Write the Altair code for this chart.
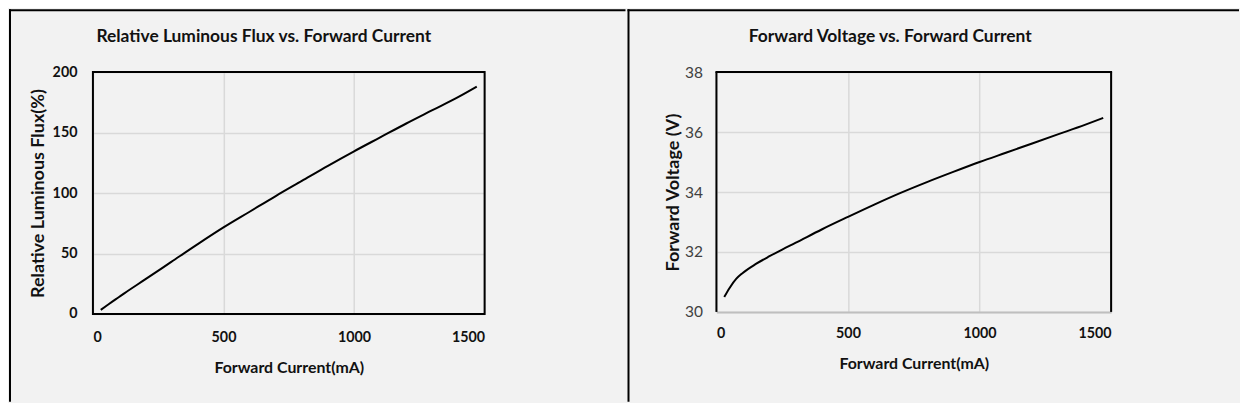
import altair as alt
import pandas as pd

# ---- data ----
flux_current = [30, 60, 100, 120, 200, 300, 400, 500, 600, 700, 800, 900, 1000, 1100, 1200, 1300, 1400, 1470]
flux_values = [3.3, 8, 14, 17, 28.5, 43, 57.5, 71.5, 84.5, 97.5, 110, 122.5, 134.5, 146, 157.5, 168.5, 179.5, 188]

volt_current = [30, 50, 75, 100, 150, 200, 250, 300, 400, 500, 600, 700, 800, 900, 1000, 1100, 1200, 1300, 1400, 1470]
volt_values = [30.5, 30.8, 31.1, 31.3, 31.6, 31.85, 32.08, 32.3, 32.75, 33.17, 33.58, 33.97, 34.33, 34.67, 35.0, 35.31, 35.62, 35.93, 36.24, 36.47]

x_ticks = [0, 500, 1000, 1500]
flux_ticks = [0, 50, 100, 150, 200]
volt_ticks = [30, 32, 34, 36, 38]

title_left = "Relative Luminous Flux vs. Forward Current"
title_right = "Forward Voltage vs. Forward Current"
x_title = "Forward Current(mA)"
y_title_left = "Relative Luminous Flux(%)"
y_title_right = "Forward Voltage (V)"

FONT = "Lato"
BG = "#f2f2f2"
GRID = "#d9d9d9"
TXT = "#111111"

df_flux = pd.DataFrame({"current": flux_current, "flux": flux_values})
df_volt = pd.DataFrame({"current": volt_current, "volt": volt_values})
one = alt.Data(values=[{"k": 1}])

LW, LH = 392, 242
RW, RH = 395, 240


def rule(x, y, x2=None, y2=None, color="black", width=2):
    enc = dict(x=alt.value(x), y=alt.value(y))
    if x2 is not None:
        enc["x2"] = alt.value(x2)
    if y2 is not None:
        enc["y2"] = alt.value(y2)
    return alt.Chart(one).mark_rule(color=color, strokeWidth=width, strokeCap="butt").encode(**enc)


# ---------- left panel ----------
xl = alt.X(
    "current:Q",
    scale=alt.Scale(domain=[0, 1500], nice=False),
    axis=alt.Axis(
        values=x_ticks, format="d", title=x_title, grid=True, gridColor=GRID, gridWidth=1.5,
        domain=False, ticks=False, tickSize=0, labelPadding=24, labelBaseline="middle",
        labelFont=FONT, labelFontWeight="bold", labelFontSize=14.3, labelColor=TXT,
        titleFont=FONT, titleFontWeight="bold", titleFontSize=15.9, titleColor=TXT,
        titleY=54, titleBaseline="middle",
    ),
)
yl = alt.Y(
    "flux:Q",
    scale=alt.Scale(domain=[0, 200], nice=False),
    axis=alt.Axis(
        values=flux_ticks, format="d", title=y_title_left, grid=True, gridColor=GRID, gridWidth=1.5,
        domain=False, ticks=False, tickSize=0, labelPadding=16,
        labelFont=FONT, labelFontWeight="bold", labelFontSize=14.3, labelColor=TXT,
        titleFont=FONT, titleFontWeight="bold", titleFontSize=18, titleColor=TXT,
        titleX=-54, titleBaseline="middle",
    ),
)
left_line = alt.Chart(df_flux).mark_line(color="black", strokeWidth=2, interpolate="monotone").encode(x=xl, y=yl)
left_frame = alt.Chart(one).mark_rect(filled=False, stroke="black", strokeWidth=2).encode(
    x=alt.value(0), x2=alt.value(LW), y=alt.value(0), y2=alt.value(LH)
)
left = alt.layer(
    left_line,
    left_frame,
    rule(-84, -62, x2=533),        # top border
    rule(-83, -63, y2=330),        # left border
).properties(
    width=LW, height=LH,
    title=alt.TitleParams(title_left, font=FONT, fontSize=17.4, fontWeight="bold", color=TXT,
                          anchor="middle", frame="group", baseline="middle", dx=-25, offset=-46),
    view=alt.ViewBackground(stroke=None),
)

# ---------- right panel ----------
xr = alt.X(
    "current:Q",
    scale=alt.Scale(domain=[0, 1500], nice=False),
    axis=alt.Axis(
        values=x_ticks, format="d", title=x_title, grid=True, gridColor=GRID, gridWidth=1.5,
        domain=True, domainColor="#bfbfbf", domainWidth=2, ticks=False, tickSize=0,
        labelPadding=22, labelBaseline="middle",
        labelFont=FONT, labelFontWeight="bold", labelFontSize=14.3, labelColor=TXT,
        titleFont=FONT, titleFontWeight="bold", titleFontSize=15.9, titleColor=TXT,
        titleY=52, titleBaseline="middle",
    ),
)
yr = alt.Y(
    "volt:Q",
    scale=alt.Scale(domain=[30, 38], nice=False, zero=False),
    axis=alt.Axis(
        values=volt_ticks, format="d", title=y_title_right, grid=True, gridColor=GRID, gridWidth=1.5,
        domain=False, ticks=False, tickSize=0, labelPadding=14,
        labelFont=FONT, labelFontWeight="normal", labelFontSize=15.5, labelColor="#404040",
        titleFont=FONT, titleFontWeight="bold", titleFontSize=18, titleColor=TXT,
        titleX=-43, titleBaseline="middle",
    ),
)
right_line = alt.Chart(df_volt).mark_line(color="black", strokeWidth=2, interpolate="monotone").encode(x=xr, y=yr)
right = alt.layer(
    right_line,
    rule(0, 0, y2=RH),             # left frame
    rule(RW, 0, y2=RH),            # right frame
    rule(-1, 0, x2=RW + 1),        # top frame
    rule(-88, -63, y2=330),        # divider
    rule(-89, -62, x2=523),        # top border
).properties(
    width=RW, height=RH,
    title=alt.TitleParams(title_right, font=FONT, fontSize=17.4, fontWeight="bold", color=TXT,
                          anchor="middle", frame="group", baseline="middle", dx=-23.5, offset=-46),
    view=alt.ViewBackground(stroke=None),
)

chart = alt.hconcat(left, right, spacing=0).properties(
    padding=0, background=BG
).configure_view(stroke=None)

chart.save("out.html", embed_options={"renderer": "svg", "actions": False})
